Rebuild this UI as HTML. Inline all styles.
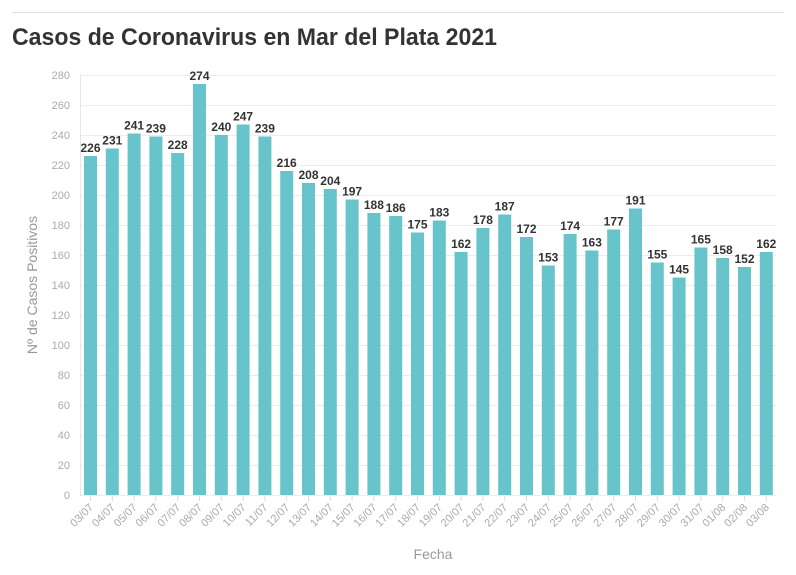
<!DOCTYPE html>
<html><head><meta charset="utf-8"><style>
body{margin:0;background:#fff;}
svg{display:block;font-family:"Liberation Sans",sans-serif;}
</style></head><body>
<svg width="796" height="575" viewBox="0 0 796 575">
<line x1="12" y1="12.5" x2="784" y2="12.5" stroke="#e0e0e0" stroke-width="1"/>
<text x="12" y="45" font-size="24" font-weight="bold" fill="#333" textLength="485" lengthAdjust="spacingAndGlyphs">Casos de Coronavirus en Mar del Plata 2021</text>
<g id="grid"></g>
<g id="bars"></g>
<text transform="translate(37,285) rotate(-90)" text-anchor="middle" font-size="14" fill="#999">Nº de Casos Positivos</text>
<text x="433" y="559" text-anchor="middle" font-size="14" fill="#999">Fecha</text>
</svg>
<script>
var v=[226,231,241,239,228,274,240,247,239,216,208,204,197,188,186,175,183,162,178,187,172,153,174,163,177,191,155,145,165,158,152,162];
var lab=["03/07","04/07","05/07","06/07","07/07","08/07","09/07","10/07","11/07","12/07","13/07","14/07","15/07","16/07","17/07","18/07","19/07","20/07","21/07","22/07","23/07","24/07","25/07","26/07","27/07","28/07","29/07","30/07","31/07","01/08","02/08","03/08"];
var ns="http://www.w3.org/2000/svg",g=document.getElementById("grid"),b=document.getElementById("bars");
function el(t,a,p,txt){var e=document.createElementNS(ns,t);for(var k in a)e.setAttribute(k,a[k]);if(txt!=null)e.textContent=txt;p.appendChild(e);return e;}
for(var y=0;y<=280;y+=20){var py=495-y*1.5;
el("line",{x1:80,x2:776,y1:py+0.5,y2:py+0.5,stroke:"#ececec"},g);
el("text",{x:70,y:py+4,"text-anchor":"end","font-size":"11",fill:"#aaa"},g,y);}
el("line",{x1:80.5,x2:80.5,y1:74,y2:496,stroke:"#e6e6e6"},g);
for(var i=0;i<v.length;i++){var x=84+i*21.8,h=v[i]*1.5;
el("rect",{x:x,y:495-h,width:13,height:h,fill:"#67c4cb"},b);
el("text",{x:x+6.5,y:495-h-4,"text-anchor":"middle","font-size":"12","font-weight":"bold",fill:"#333"},b,v[i]);
el("line",{x1:x+6.5,x2:x+6.5,y1:496,y2:501,stroke:"#ddd"},b);
el("text",{transform:"translate("+(x+10)+",508) rotate(-45)","text-anchor":"end","font-size":"11",fill:"#aaa"},b,lab[i]);}
</script>
</body></html>
